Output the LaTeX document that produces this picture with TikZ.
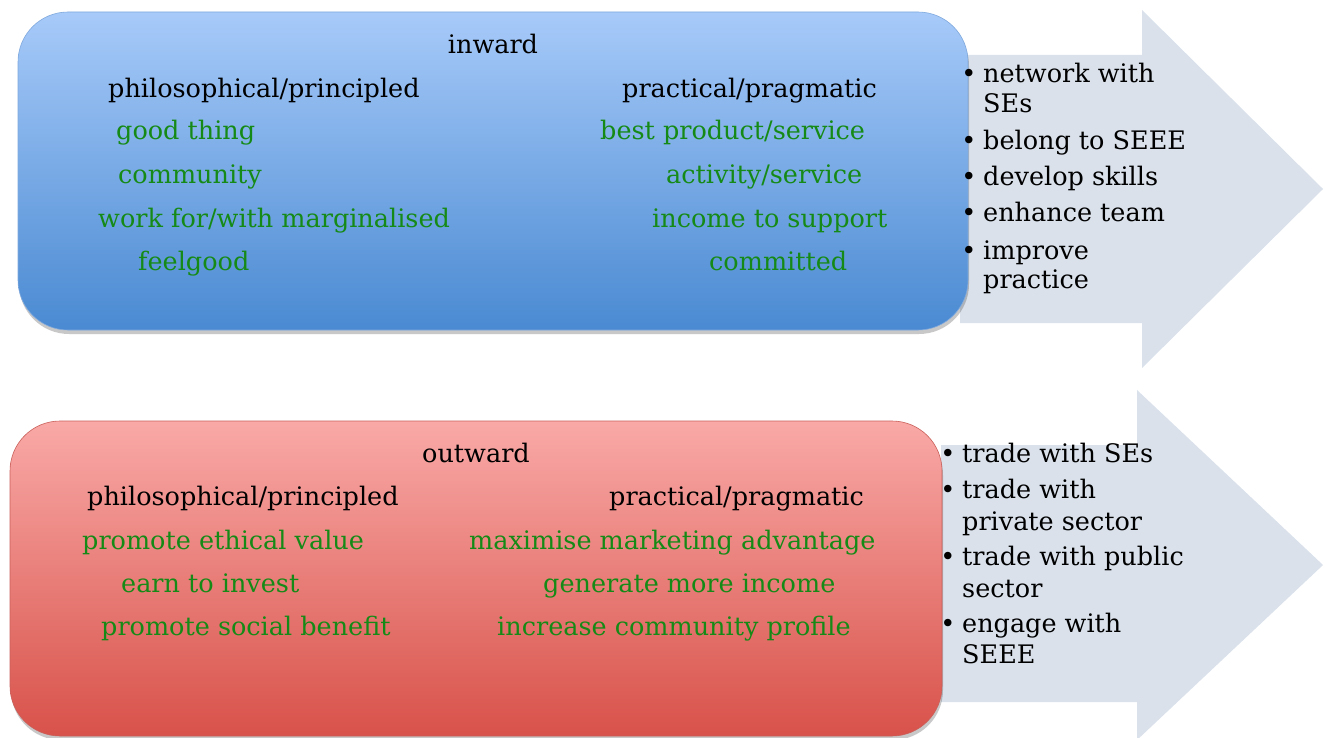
\documentclass[tikz,border=0pt]{standalone}
\usepackage{fontspec}
\setmainfont{DejaVu Serif}
\usetikzlibrary{shadows}
\definecolor{bluetop}{HTML}{A7CAF9}
\definecolor{bluebot}{HTML}{4A8AD2}
\definecolor{blueedge}{HTML}{7FA9DD}
\definecolor{redtop}{HTML}{F9A9A7}
\definecolor{redbot}{HTML}{D8524A}
\definecolor{rededge}{HTML}{C9605A}
\definecolor{arrowfill}{HTML}{DAE1EB}
\definecolor{leafgreen}{HTML}{168A16}
\tikzset{
  panel/.style={rectangle, rounded corners=50pt, draw=#1, line width=0.6pt,
    drop shadow={shadow xshift=1pt, shadow yshift=-4pt, opacity=0.3, fill=black!70}},
  txt/.style={anchor=base west, inner sep=0pt, text=black},
  head/.style={anchor=base, inner sep=0pt, text=black},
  item/.style={anchor=base west, inner sep=0pt, text=leafgreen},
  dot/.style={anchor=base, inner sep=0pt, text=black},
  blockarrow/.style={fill=arrowfill, draw=none}
}
\begin{document}
\begin{tikzpicture}[x=1pt, y=1pt, font=\fontsize{25.5}{30}\selectfont]
\useasboundingbox (0,0) rectangle (1325,-738);
\fill[white] (0,0) rectangle (1325,-738);

% block arrows behind the panels
\fill[blockarrow] (960,-55) -- (1142,-55) -- (1142,-10) -- (1323,-189)
  -- (1142,-368) -- (1142,-323) -- (960,-323) -- cycle;
\fill[blockarrow] (941,-445) -- (1137,-445) -- (1137,-390) -- (1323,-565)
  -- (1137,-740) -- (1137,-702) -- (941,-702) -- cycle;

% panels
\node[panel=blueedge, top color=bluetop, bottom color=bluebot,
  minimum width=950pt, minimum height=318pt] (inbox) at (493,-171) {};
\node[panel=rededge, top color=redtop, bottom color=redbot,
  minimum width=932pt, minimum height=315pt] (outbox) at (476,-578.5) {};

% inward panel text
\node[head] (intitle) at (493,-54) {inward};
\node[txt] (inphil) at (108,-98) {philosophical/principled};
\node[txt] (inprac) at (622,-98) {practical/pragmatic};
\node[item] (in1) at (116,-140) {good thing};
\node[item] (in2) at (118,-184) {community};
\node[item] (in3) at (98,-227) {work for/with marginalised};
\node[item] (in4) at (138,-270) {feelgood};
\node[item] (in5) at (600,-140) {best product/service};
\node[item] (in6) at (666,-184) {activity/service};
\node[item] (in7) at (652,-227) {income to support};
\node[item] (in8) at (709,-270) {committed};

% outward panel text
\node[head] (outtitle) at (476,-462) {outward};
\node[txt] (outphil) at (87,-505) {philosophical/principled};
\node[txt] (outprac) at (609,-505) {practical/pragmatic};
\node[item] (out1) at (82,-549) {promote ethical value};
\node[item] (out2) at (121,-592) {earn to invest};
\node[item] (out3) at (101,-635) {promote social benefit};
\node[item] (out4) at (469,-549) {maximise marketing advantage};
\node[item] (out5) at (543,-592) {generate more income};
\node[item] (out6) at (497,-635) {increase community profile};

% inward arrow list
\node[dot] (ib1) at (969,-83) {\textbullet};
\node[txt] (ia1) at (983,-83) {network with};
\node[txt] (ia1b) at (983,-113) {SEs};
\node[dot] (ib2) at (969,-150) {\textbullet};
\node[txt] (ia2) at (983,-150) {belong to SEEE};
\node[dot] (ib3) at (969,-186) {\textbullet};
\node[txt] (ia3) at (983,-186) {develop skills};
\node[dot] (ib4) at (969,-222) {\textbullet};
\node[txt] (ia4) at (983,-222) {enhance team};
\node[dot] (ib5) at (969,-259) {\textbullet};
\node[txt] (ia5) at (983,-259) {improve};
\node[txt] (ia5b) at (983,-288) {practice};

% outward arrow list
\node[dot] (ob1) at (948,-462) {\textbullet};
\node[txt] (oa1) at (962,-462) {trade with SEs};
\node[dot] (ob2) at (948,-498) {\textbullet};
\node[txt] (oa2) at (962,-498) {trade with};
\node[txt] (oa2b) at (962,-530) {private sector};
\node[dot] (ob3) at (948,-565) {\textbullet};
\node[txt] (oa3) at (962,-565) {trade with public};
\node[txt] (oa3b) at (962,-597) {sector};
\node[dot] (ob4) at (948,-632) {\textbullet};
\node[txt] (oa4) at (962,-632) {engage with};
\node[txt] (oa4b) at (962,-663) {SEEE};
\end{tikzpicture}
\end{document}
